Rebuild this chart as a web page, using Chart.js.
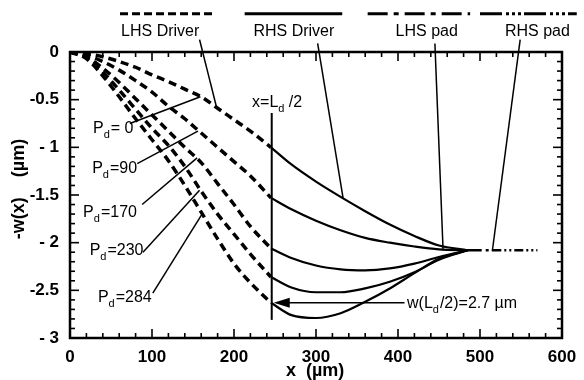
<!DOCTYPE html>
<html>
<head>
<meta charset="utf-8">
<script src="https://cdn.jsdelivr.net/npm/chart.js@4.4.0/dist/chart.umd.min.js"></script>
<style>
  html, body { margin: 0; padding: 0; background: #fff; }
</style>
</head>
<body>
<canvas id="plate" width="584" height="380"></canvas>
<script>
// plate deflection -w(x) in um
const lhsX = [0, 20, 40, 60, 80, 100, 120, 140, 160, 180, 200, 220, 245];
const lhsPd0   = [0, -0.015, -0.05, -0.10, -0.16, -0.24, -0.31, -0.39, -0.47, -0.59, -0.71, -0.83, -1.00];
const lhsPd90  = [0, -0.03, -0.10, -0.19, -0.30, -0.42, -0.57, -0.70, -0.85, -1.00, -1.15, -1.30, -1.53];
const lhsPd170 = [0, -0.05, -0.17, -0.32, -0.49, -0.66, -0.83, -1.00, -1.16, -1.38, -1.60, -1.83, -2.06];
const lhsPd230 = [0, -0.06, -0.21, -0.40, -0.60, -0.80, -0.98, -1.20, -1.46, -1.70, -1.91, -2.12, -2.36];
const lhsPd284 = [0, -0.07, -0.25, -0.47, -0.70, -0.92, -1.14, -1.40, -1.68, -1.96, -2.22, -2.42, -2.63];

const rhsX = [245, 270, 300, 330, 360, 390, 420, 450, 485];
const rhsPd0   = [-1.00, -1.18, -1.36, -1.52, -1.67, -1.81, -1.93, -2.03, -2.08];
const rhsPd90  = [-1.53, -1.65, -1.77, -1.87, -1.95, -2.00, -2.04, -2.07, -2.08];
const rhsPd170 = [-2.06, -2.16, -2.24, -2.28, -2.29, -2.27, -2.22, -2.15, -2.08];
const rhsPd230 = [-2.36, -2.47, -2.52, -2.52, -2.48, -2.41, -2.31, -2.18, -2.08];
const rhsPd284 = [-2.63, -2.76, -2.79, -2.74, -2.62, -2.48, -2.32, -2.17, -2.08];

const lhsPadX = [485, 515];
const lhsPadY = [-2.08, -2.08];
const rhsPadX = [515, 570];
const rhsPadY = [-2.08, -2.08];

const pressures = ['= 0', '=90', '=170', '=230', '=284'];
const halfDriver = 246;   // x = Ld/2
const wHalf = -2.63;

const FONT = '"Liberation Sans", Arial, Helvetica, sans-serif';

function pts(xs, ys) {
  return xs.map((x, i) => ({ x: x, y: ys[i] }));
}

const lhsAll = [lhsPd0, lhsPd90, lhsPd170, lhsPd230, lhsPd284];
const rhsAll = [rhsPd0, rhsPd90, rhsPd170, rhsPd230, rhsPd284];

const datasets = [];
lhsAll.forEach(ys => datasets.push({
  data: pts(lhsX, ys), borderColor: '#000', borderWidth: 3.5,
  borderDash: [8, 5], pointRadius: 0, cubicInterpolationMode: 'monotone'
}));
rhsAll.forEach(ys => datasets.push({
  data: pts(rhsX, ys), borderColor: '#000', borderWidth: 2.2,
  pointRadius: 0, cubicInterpolationMode: 'monotone'
}));
datasets.push({ data: pts(lhsPadX, lhsPadY), borderColor: '#000', borderWidth: 2.5,
  borderDash: [14, 4, 3, 4], pointRadius: 0 });
datasets.push({ data: pts(rhsPadX, rhsPadY), borderColor: '#000', borderWidth: 2.5,
  borderDash: [9, 3, 2, 3, 2, 3], pointRadius: 0 });

// annotation anchors, in axis units (x um, y um)
const legendItems = [
  { name: 'LHS Driver', from: 61, to: 174, mid: 110, dash: [8, 4], tip: [158, 0.13, 179, -0.59] },
  { name: 'RHS Driver', from: 213, to: 332, mid: 273, dash: [], tip: [302, 0.09, 333, -1.53] },
  { name: 'LHS pad', from: 363, to: 488, mid: 435, dash: [20, 6, 5, 6], tip: [445, 0.09, 455, -2.08] },
  { name: 'RHS pad', from: 500, to: 618, mid: 570, dash: [22, 4, 3, 3, 3, 3, 3, 3], tip: [549, 0.13, 515, -2.09] }
];
const pdLabels = [
  { at: [28, -0.85], lead: [73, -0.75, 159, -0.47] },
  { at: [27, -1.27], lead: [82, -1.17, 156, -0.83] },
  { at: [16, -1.73], lead: [88, -1.60, 155, -1.11] },
  { at: [24, -2.13], lead: [89, -2.10, 158, -1.45] },
  { at: [34, -2.62], lead: [101, -2.53, 161, -1.70] }
];

function seg(ctx, x1, y1, x2, y2) {
  ctx.beginPath();
  ctx.moveTo(x1, y1);
  ctx.lineTo(x2, y2);
  ctx.stroke();
}

// text with a subscript "d" in the middle
function subText(ctx, before, sub, after, px, py) {
  ctx.font = '16px ' + FONT;
  ctx.fillText(before, px, py);
  let w = ctx.measureText(before).width;
  ctx.font = '11px ' + FONT;
  ctx.fillText(sub, px + w, py + 5);
  w += ctx.measureText(sub).width + 1;
  ctx.font = '16px ' + FONT;
  ctx.fillText(after, px + w, py);
}

const decor = {
  id: 'decor',
  afterDatasetsDraw(chart) {
    const { ctx, chartArea: a, scales: { x, y } } = chart;
    const X = v => x.getPixelForValue(v);
    const Y = v => y.getPixelForValue(v);
    ctx.save();
    ctx.strokeStyle = '#000';
    ctx.fillStyle = '#000';

    // frame and inward ticks
    ctx.lineWidth = 2.5;
    ctx.strokeRect(a.left, a.top, a.right - a.left, a.bottom - a.top);
    ctx.lineWidth = 1.6;
    for (let v = 0; v <= 600; v += 20) {
      const len = v % 100 === 0 ? 9 : 5;
      seg(ctx, X(v), a.bottom, X(v), a.bottom - len);
      seg(ctx, X(v), a.top, X(v), a.top + len);
    }
    for (let k = 0; k <= 30; k++) {
      const len = k % 5 === 0 ? 9 : 5;
      const py = Y(-k / 10);
      seg(ctx, a.left, py, a.left + len, py);
      seg(ctx, a.right, py, a.right - len, py);
    }

    // axis titles
    ctx.font = 'bold 18px ' + FONT;
    ctx.textAlign = 'center';
    ctx.textBaseline = 'alphabetic';
    ctx.fillText('x  (\u00b5m)', X(299), 376);
    ctx.save();
    ctx.translate(24, (a.top + a.bottom) / 2 - 6);
    ctx.rotate(-Math.PI / 2);
    ctx.fillText('-w(x)    (\u00b5m)', 0, 0);
    ctx.restore();

    // legend: line samples with names below
    legendItems.forEach(it => {
      ctx.lineWidth = 3;
      ctx.setLineDash(it.dash);
      seg(ctx, X(it.from), Y(0.40), X(it.to), Y(0.40));
      ctx.setLineDash([]);
      ctx.font = '16px ' + FONT;
      ctx.fillText(it.name, X(it.mid), Y(0.165));
      ctx.lineWidth = 1.5;
      seg(ctx, X(it.tip[0]), Y(it.tip[1]), X(it.tip[2]), Y(it.tip[3]));
    });

    // pressure labels
    ctx.textAlign = 'left';
    pdLabels.forEach((p, i) => {
      subText(ctx, 'P', 'd', pressures[i], X(p.at[0]), Y(p.at[1]));
      ctx.lineWidth = 1.5;
      seg(ctx, X(p.lead[0]), Y(p.lead[1]), X(p.lead[2]), Y(p.lead[3]));
    });

    // x = Ld/2 marker
    ctx.lineWidth = 2;
    seg(ctx, X(halfDriver), Y(-0.64), X(halfDriver), Y(-2.81));
    ctx.font = '16px ' + FONT;
    ctx.fillText('x=L', X(222), Y(-0.58));
    let w = ctx.measureText('x=L').width;
    ctx.font = '11px ' + FONT;
    ctx.fillText('d', X(222) + w, Y(-0.58) + 5);
    ctx.font = '16px ' + FONT;
    ctx.fillText(' /2', X(222) + w + 6, Y(-0.58));

    // arrow to w(Ld/2)
    ctx.lineWidth = 1.5;
    const ay = Y(wHalf);
    seg(ctx, X(408), ay, X(halfDriver) + 12, ay);
    ctx.beginPath();
    ctx.moveTo(X(halfDriver) + 2, ay);
    ctx.lineTo(X(halfDriver) + 18, ay - 5);
    ctx.lineTo(X(halfDriver) + 18, ay + 5);
    ctx.closePath();
    ctx.fill();
    subText(ctx, 'w(L', 'd', '/2)=2.7 \u00b5m', X(411), Y(-2.69));

    ctx.restore();
  }
};

new Chart(document.getElementById('plate'), {
  type: 'scatter',
  data: { datasets: datasets },
  options: {
    responsive: false,
    animation: false,
    showLine: true,
    layout: { padding: { top: 52, right: 22, left: 0, bottom: 0 } },
    plugins: {
      legend: { display: false },
      tooltip: { enabled: false }
    },
    scales: {
      x: {
        type: 'linear', min: 0, max: 600,
        grid: { display: false }, border: { display: false },
        ticks: { stepSize: 100, color: '#000', padding: 1, maxRotation: 0,
          font: { family: FONT, size: 17, weight: 'bold' } },
        afterFit: s => { s.height = 42; }
      },
      y: {
        type: 'linear', min: -3, max: 0,
        grid: { display: false }, border: { display: false },
        ticks: { stepSize: 0.5, color: '#000', padding: 3,
          font: { family: FONT, size: 17, weight: 'bold' },
          callback: v => v === 0 ? '0' : (Number.isInteger(v) ? '- ' + Math.abs(v) : String(v)) },
        afterFit: s => { s.width = 70; }
      }
    }
  },
  plugins: [decor]
});
</script>
</body>
</html>
